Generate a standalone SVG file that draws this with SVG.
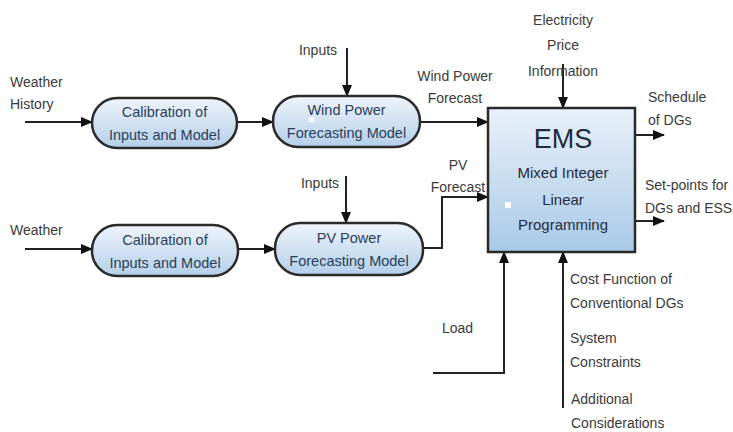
<svg xmlns="http://www.w3.org/2000/svg" width="733" height="432" viewBox="0 0 733 432">
<style>
.t{font-family:"Liberation Sans",Arial,sans-serif;font-size:14px;fill:#3a3a3a}
.n{font-family:"Liberation Sans",Arial,sans-serif;font-size:14.5px;fill:#2b3e58;text-anchor:middle}
.e{font-family:"Liberation Sans",Arial,sans-serif;fill:#1f2c3d;text-anchor:middle}
.pill{fill:url(#g1);stroke:#2a2a2a;stroke-width:2.5}
.c{fill:none;stroke:#222;stroke-width:2}
.a{marker-end:url(#ah)}
</style>
<defs>
<linearGradient id="g1" x1="0" y1="0" x2="0" y2="1">
<stop offset="0" stop-color="#eef4fb"/>
<stop offset="1" stop-color="#b3cfea"/>
</linearGradient>
<linearGradient id="g2" x1="0" y1="0" x2="0" y2="1">
<stop offset="0" stop-color="#e9f1fa"/>
<stop offset="1" stop-color="#a9c9e7"/>
</linearGradient>
<marker id="ah" markerUnits="userSpaceOnUse" markerWidth="12" markerHeight="10" refX="11" refY="5" orient="auto">
<path d="M0,0 L12,5 L0,10 Z" fill="#111"/>
</marker>
</defs>
<rect width="733" height="432" fill="#fff"/>
<g id="connectors">
<line class="c a" x1="25" y1="122" x2="92" y2="122"/>
<line class="c a" x1="237" y1="122" x2="273" y2="122"/>
<line class="c a" x1="420" y1="122" x2="488" y2="122"/>
<line class="c a" x1="347" y1="48" x2="347" y2="96"/>
<line class="c a" x1="25" y1="249" x2="92" y2="249"/>
<line class="c a" x1="238" y1="249" x2="275" y2="249"/>
<polyline class="c a" points="423,248 442,248 442,197 488,197"/>
<line class="c a" x1="346" y1="176" x2="346" y2="223"/>
<line class="c a" x1="563" y1="64" x2="563" y2="108"/>
<line class="c a" x1="635" y1="135" x2="664" y2="135"/>
<line class="c a" x1="635" y1="221" x2="664" y2="221"/>
<polyline class="c a" points="433,373 504,373 504,252"/>
<line class="c a" x1="563" y1="408" x2="563" y2="252"/>
</g>
<g id="labels">
<text class="t" x="10" y="87">Weather</text>
<text class="t" x="10" y="109">History</text>
<text class="t" x="10" y="235">Weather</text>
<text class="t" x="318" y="55" text-anchor="middle">Inputs</text>
<text class="t" x="320" y="188" text-anchor="middle">Inputs</text>
<text class="t" x="455" y="81" text-anchor="middle">Wind Power</text>
<text class="t" x="455" y="103" text-anchor="middle">Forecast</text>
<text class="t" x="458" y="170" text-anchor="middle">PV</text>
<text class="t" x="458" y="192" text-anchor="middle">Forecast</text>
<text class="t" x="563" y="25" text-anchor="middle">Electricity</text>
<text class="t" x="563" y="50" text-anchor="middle">Price</text>
<text class="t" x="563" y="76" text-anchor="middle">Information</text>
<text class="t" x="648" y="102">Schedule</text>
<text class="t" x="648" y="125">of DGs</text>
<text class="t" x="645" y="190">Set-points for</text>
<text class="t" x="645" y="213">DGs and ESS</text>
<text class="t" x="442" y="333">Load</text>
<text class="t" x="570" y="284">Cost Function of</text>
<text class="t" x="570" y="308">Conventional DGs</text>
<text class="t" x="570" y="343">System</text>
<text class="t" x="570" y="367">Constraints</text>
<text class="t" x="571" y="404">Additional</text>
<text class="t" x="571" y="428">Considerations</text>
</g>
<g id="calib1">
<rect class="pill" x="92" y="98" width="145" height="50" rx="25"/>
<text class="n" x="164.5" y="117">Calibration of</text>
<text class="n" x="164.5" y="140">Inputs and Model</text>
</g>
<g id="wind">
<rect class="pill" x="273" y="96" width="147" height="51" rx="25"/>
<text class="n" x="346.5" y="115">Wind Power</text>
<text class="n" x="346.5" y="138">Forecasting Model</text>
<rect x="309" y="117" width="5" height="5" fill="#fff"/>
</g>
<g id="calib2">
<rect class="pill" x="92" y="225" width="146" height="51" rx="25"/>
<text class="n" x="165" y="245">Calibration of</text>
<text class="n" x="165" y="268">Inputs and Model</text>
</g>
<g id="pv">
<rect class="pill" x="275" y="223" width="148" height="52" rx="25"/>
<text class="n" x="349" y="243">PV Power</text>
<text class="n" x="349" y="266">Forecasting Model</text>
</g>
<g id="ems">
<rect x="488" y="108" width="147" height="144" fill="url(#g2)" stroke="#2a2a2a" stroke-width="2.5"/>
<text class="e" x="563" y="148" font-size="27">EMS</text>
<text class="e" x="563" y="178" font-size="15">Mixed Integer</text>
<text class="e" x="563" y="205" font-size="15">Linear</text>
<text class="e" x="563" y="230" font-size="15">Programming</text>
<rect x="505" y="202" width="6" height="6" fill="#fff"/>
</g>
</svg>
